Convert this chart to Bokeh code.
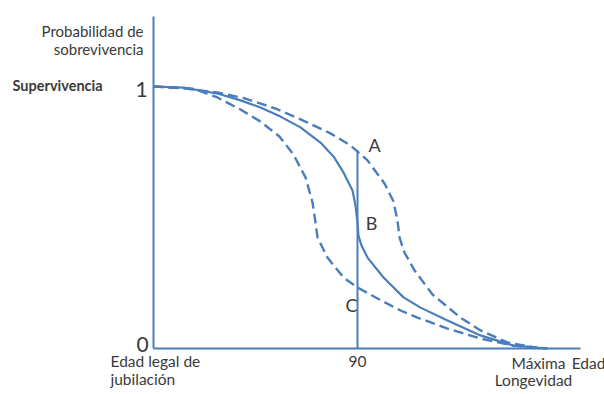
from bokeh.plotting import figure
from bokeh.models import Range1d, Label
from bokeh.embed import file_html
from bokeh.resources import INLINE

# ---- data (age in years, survival probability) ----
age_solid = [65.00, 68.68, 72.84, 75.66, 78.11, 80.56, 83.01, 85.46, 87.06, 88.28, 89.39, 89.75,
             90.00, 90.12, 90.49, 91.23, 93.19, 95.64, 97.72, 101.03, 105.07, 109.12, 113.28]
surv_solid = [1.000, 0.996, 0.973, 0.947, 0.920, 0.885, 0.844, 0.786, 0.733, 0.672, 0.603, 0.546,
              0.481, 0.431, 0.393, 0.347, 0.271, 0.195, 0.156, 0.107, 0.050, 0.011, 0.000]

age_low = [65.00, 69.90, 72.84, 75.66, 78.11, 80.44, 82.16, 83.63, 84.49, 84.85, 85.10, 86.32,
           88.28, 90.00, 92.45, 95.27, 97.35, 101.03, 105.07, 109.12, 113.28]
surv_low = [1.000, 0.992, 0.958, 0.912, 0.866, 0.809, 0.740, 0.653, 0.557, 0.481, 0.424, 0.347,
            0.271, 0.233, 0.191, 0.145, 0.118, 0.076, 0.038, 0.011, 0.000]

age_high = [65.00, 68.92, 72.84, 76.27, 79.95, 83.63, 86.69, 89.14, 91.23, 93.31, 94.41, 94.90,
            95.15, 95.76, 96.99, 99.19, 102.62, 105.07, 108.38, 112.43]
surv_high = [1.000, 0.992, 0.977, 0.954, 0.916, 0.866, 0.821, 0.775, 0.718, 0.630, 0.561, 0.489,
             0.424, 0.366, 0.298, 0.206, 0.118, 0.069, 0.023, 0.000]

retire_age = 65.0
mark_age = 90.0
mark_top = 0.756
axis_x_end = 117.33
axis_y_end = 1.267

COLOR = "#4a7ebb"
TEXT = "#3a3a3a"
FONT = "Lato"

p = figure(width=604, height=394, output_backend="svg", toolbar_location=None,
           x_range=Range1d(46.25, 120.27), y_range=Range1d(-0.1756, 1.3282),
           x_axis_type=None, y_axis_type=None, min_border=0)
p.grid.visible = False
p.outline_line_color = None
p.background_fill_color = "white"

# axes
p.line([retire_age, retire_age], [0, axis_y_end], line_color=COLOR, line_width=2)
p.line([retire_age, axis_x_end], [0, 0], line_color=COLOR, line_width=2)
# vertical marker at 90
p.line([mark_age, mark_age], [0, mark_top], line_color=COLOR, line_width=2)

# curves
p.line(age_low, surv_low, line_color=COLOR, line_width=2.4, line_dash="10 5", line_join="round")
p.line(age_high, surv_high, line_color=COLOR, line_width=2.4, line_dash="10 5", line_join="round")
p.line(age_solid, surv_solid, line_color=COLOR, line_width=2.2, line_join="round")

def lab(text, x, y, align="center", size="15px", style="normal", base="middle"):
    p.add_layout(Label(x=x, y=y, x_units="screen", y_units="screen", text=text,
                       text_align=align, text_baseline=base, text_font=FONT,
                       text_font_size=size, text_color=TEXT, text_font_style=style))

lab("Probabilidad de", 143, 364, align="right")
lab("sobrevivencia", 143, 346, align="right")
lab("Supervivencia", 12, 309, align="left", size="14.5px", style="bold")
lab("1", 141, 305, size="21px")
lab("0", 142, 50, size="21px")
lab("A", 374, 250, size="18px")
lab("B", 371, 172, size="18px")
lab("C", 351, 90, size="18px")
lab("Edad legal de", 110, 34, align="left", size="15.5px")
lab("jubilación", 110, 16, align="left", size="15.5px")
lab("90", 357, 33, size="15.5px")
lab("Máxima", 538, 32, size="15.5px")
lab("Longevidad", 533, 15, size="15.5px")
lab("Edad", 588, 32, size="15.5px")

open("out.html", "w").write(file_html(p, INLINE))
